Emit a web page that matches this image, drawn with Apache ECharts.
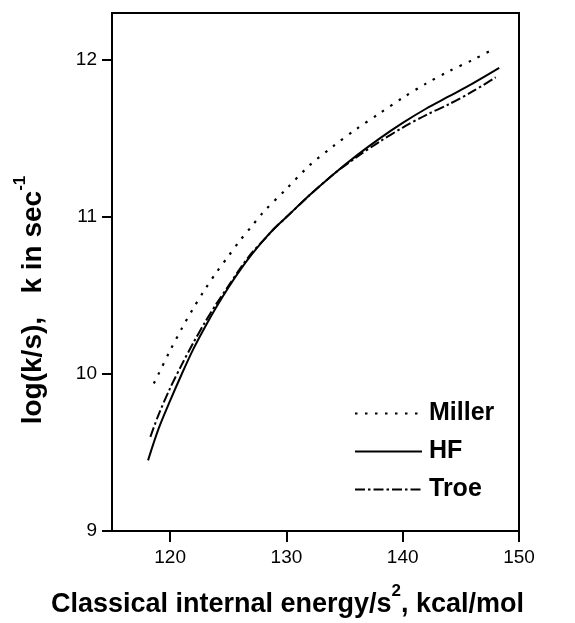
<!DOCTYPE html>
<html>
<head>
<meta charset="utf-8">
<script src="https://cdn.jsdelivr.net/npm/echarts@6/dist/echarts.min.js"></script>
<style>
html,body{margin:0;padding:0;background:#fff;}
#chart{width:575px;height:623px;}
</style>
</head>
<body>
<div id="chart"></div>
<script>
// Data
const hfX = [118.1, 119, 120, 121, 122, 123, 124, 125, 126, 127, 128, 129, 130, 132, 134, 136, 138, 140, 142, 144, 146, 148.3];
const hfY = [9.45, 9.65, 9.83, 10.00, 10.16, 10.30, 10.43, 10.55, 10.66, 10.76, 10.85, 10.93, 11.00, 11.14, 11.27, 11.39, 11.50, 11.60, 11.69, 11.77, 11.85, 11.95];

const millerX = [118.6, 119, 120, 121, 122, 123, 124, 125, 126, 127, 128, 130, 132, 134, 136, 138, 140, 142, 144, 146, 147.8];
const millerY = [9.94, 10.00, 10.15, 10.29, 10.42, 10.54, 10.65, 10.75, 10.85, 10.94, 11.03, 11.18, 11.33, 11.45, 11.56, 11.66, 11.76, 11.85, 11.93, 12.00, 12.07];

const troeX = [118.3, 119, 120, 121, 122, 123, 124, 125, 126, 127, 128, 129, 130, 132, 134, 136, 138, 140, 142, 144, 146, 148];
const troeY = [9.60, 9.74, 9.91, 10.06, 10.20, 10.33, 10.45, 10.56, 10.67, 10.77, 10.85, 10.93, 11.00, 11.14, 11.27, 11.38, 11.48, 11.57, 11.65, 11.72, 11.80, 11.89];

const xTicks = [120, 130, 140, 150];
const yTicks = [9, 10, 11, 12];

const seriesNames = ['Miller', 'HF', 'Troe'];

function pairs(xs, ys) { return xs.map((x, i) => [x, ys[i]]); }

const FONT = '"Liberation Sans", Arial, Helvetica, sans-serif';
const chart = echarts.init(document.getElementById('chart'), null, {renderer: 'canvas'});

const supStyle = {fontFamily: FONT, fontWeight: 'bold', fontSize: 17, color: '#000', verticalAlign: 'top', padding: [0, 0, 26, 0]};

chart.setOption({
  animation: false,
  backgroundColor: '#fff',
  textStyle: {fontFamily: FONT, color: '#000'},
  grid: {left: 112, right: 56, top: 13, bottom: 92, show: true, borderColor: '#000', borderWidth: 2, backgroundColor: 'transparent'},
  legend: {
    orient: 'vertical',
    left: 349,
    top: 396,
    itemWidth: 67,
    itemHeight: 24,
    itemGap: 13,
    data: seriesNames,
    itemStyle: {color: 'rgba(0,0,0,0)', borderWidth: 0, opacity: 0},
    textStyle: {fontFamily: FONT, fontWeight: 'bold', fontSize: 25, color: '#000', padding: [0, 0, 0, 2]}
  },
  xAxis: {
    type: 'value',
    min: 115, max: 150,
    name: 'Classical internal energy/s{sup|2}, kcal/mol',
    nameLocation: 'middle',
    nameGap: 52,
    nameTextStyle: {
      fontFamily: FONT, fontWeight: 'bold', fontSize: 27, color: '#000',
      padding: [0, 56, 0, 0],
      rich: {sup: supStyle}
    },
    axisLine: {show: true, onZero: false, lineStyle: {color: '#000', width: 2}},
    axisTick: {show: true, inside: false, length: 11, customValues: xTicks, lineStyle: {color: '#000', width: 2}},
    axisLabel: {show: true, customValues: xTicks, margin: 17, fontFamily: FONT, fontSize: 19, color: '#000'},
    splitLine: {show: false}
  },
  yAxis: {
    type: 'value',
    min: 9, max: 12.3,
    name: 'log(k/s),   k in sec{sup|-1}',
    nameLocation: 'middle',
    nameGap: 57,
    nameRotate: 90,
    nameTextStyle: {
      fontFamily: FONT, fontWeight: 'bold', fontSize: 28, color: '#000',
      padding: [0, 56, 0, 0],
      rich: {sup: supStyle}
    },
    axisLine: {show: true, onZero: false, lineStyle: {color: '#000', width: 2}},
    axisTick: {show: true, inside: false, length: 10, customValues: yTicks, lineStyle: {color: '#000', width: 2}},
    axisLabel: {show: true, customValues: yTicks, margin: 15, fontFamily: FONT, fontSize: 19, color: '#000'},
    splitLine: {show: false}
  },
  series: [
    {
      name: 'Miller', type: 'line', data: pairs(millerX, millerY), smooth: 0.3,
      symbol: 'none', color: '#000',
      lineStyle: {color: '#000', width: 2.2, type: [2.5, 7.5]}
    },
    {
      name: 'HF', type: 'line', data: pairs(hfX, hfY), smooth: 0.3,
      symbol: 'none', color: '#000',
      lineStyle: {color: '#000', width: 2, type: 'solid'}
    },
    {
      name: 'Troe', type: 'line', data: pairs(troeX, troeY), smooth: 0.3,
      symbol: 'none', color: '#000',
      lineStyle: {color: '#000', width: 2, type: [10, 3, 2.5, 3]}
    }
  ]
});
</script>
</body>
</html>
